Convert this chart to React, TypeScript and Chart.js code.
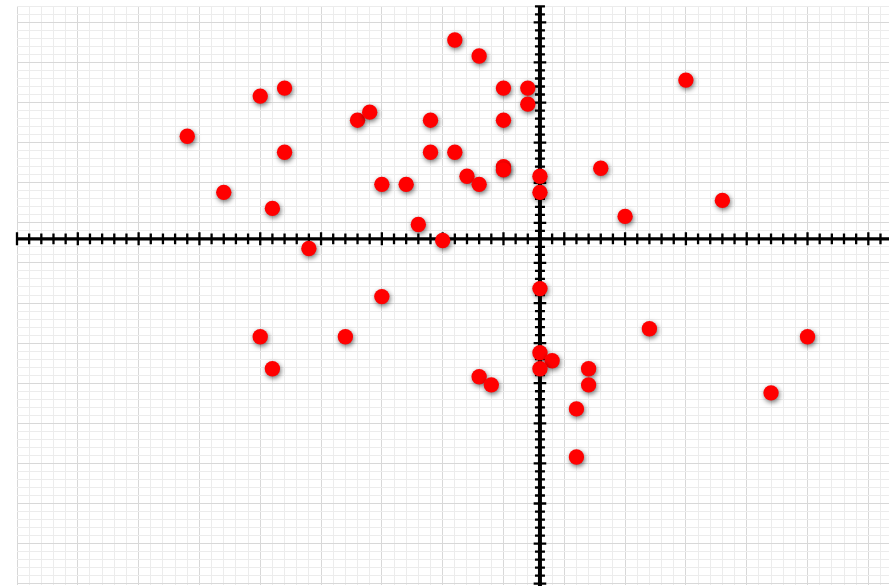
import { useEffect, useRef } from "react";
import { Chart, registerables } from "chart.js";

Chart.register(...registerables);

// Point values (in grid units; one unit = one minor grid square)
const xValues = [
  -7, -5, 12, -23, -21, -3, -1, -1, -29, -15, -14, -9, -3, -21, -9, -7, -3, -3, -6, -5, 0, 5,
  -13, -11, -26, 0, -22, 15, 7, -10, -8, -19,
  0, -13, 9, 22, -23, -16, 0, 1, 0, -22, 4, -5, -4, 4, 19, 3, 3,
];
const yValues = [
  24.8, 22.8, 19.8, 17.8, 18.8, 18.8, 18.8, 16.8, 12.8, 14.8, 15.8, 14.8, 14.8, 10.8, 10.8, 10.8, 9.0, 8.6, 7.8, 6.8, 7.8, 8.8,
  6.8, 6.8, 5.8, 5.8, 3.8, 4.8, 2.8, 1.8, -0.2, -1.2,
  -6.2, -7.2, -11.2, -12.2, -12.2, -12.2, -14.2, -15.2, -16.2, -16.2, -16.2, -17.2, -18.2, -18.2, -19.2, -21.2, -27.2,
];

// Axis ranges (grid units)
const xRange = [-43, 28.7];
const yRange = [-43.16, 29];
const gridStart = -43;
const gridEnd = 29;

const isMajor = (v: number) => ((Math.round(v) % 5) + 5) % 5 === 2;

const crossAxes = {
  id: "crossAxes",
  beforeDatasetsDraw(chart: any) {
    const { ctx, chartArea, scales } = chart;
    const xs = scales.x;
    const ys = scales.y;
    const x0 = xs.getPixelForValue(0);
    const y0 = ys.getPixelForValue(0);
    ctx.save();
    ctx.strokeStyle = "#000";
    ctx.lineCap = "butt";
    ctx.lineWidth = 3.4;
    ctx.beginPath();
    ctx.moveTo(chartArea.left, y0);
    ctx.lineTo(chartArea.right, y0);
    ctx.stroke();
    ctx.lineWidth = 4;
    ctx.beginPath();
    ctx.moveTo(x0, chartArea.top);
    ctx.lineTo(x0, chartArea.bottom + 2);
    ctx.stroke();
    ctx.lineWidth = 2.3;
    ctx.beginPath();
    xs.ticks.forEach((t: any) => {
      const px = xs.getPixelForValue(t.value);
      const len = isMajor(t.value) ? 6.5 : 5.3;
      ctx.moveTo(px, y0 - len);
      ctx.lineTo(px, y0 + len);
    });
    ys.ticks.forEach((t: any) => {
      const py = ys.getPixelForValue(t.value);
      const len = isMajor(t.value) ? 6.3 : 5;
      ctx.moveTo(x0 - len, py);
      ctx.lineTo(x0 + len, py);
    });
    ctx.stroke();
    ctx.restore();
  },
  beforeDatasetDraw(chart: any) {
    const ctx = chart.ctx;
    ctx.save();
    ctx.shadowColor = "rgba(0,0,0,0.55)";
    ctx.shadowBlur = 5;
    ctx.shadowOffsetX = 1;
    ctx.shadowOffsetY = 2;
  },
  afterDatasetDraw(chart: any) {
    chart.ctx.restore();
  },
};

const buildGridTicks = (scale: any) => {
  const ticks: { value: number }[] = [];
  for (let v = gridStart; v <= gridEnd; v++) {
    if (v >= scale.min - 1e-9 && v <= scale.max + 1e-9) ticks.push({ value: v });
  }
  scale.ticks = ticks;
};

const gridColor = (c: any) => (c.tick && isMajor(c.tick.value) ? "#d8d8d8" : "#ececec");

export default function App() {
  const ref = useRef<HTMLCanvasElement | null>(null);
  useEffect(() => {
    if (!ref.current) return;
    const data = xValues.map((x, i) => ({ x, y: yValues[i] }));
    const chart = new Chart(ref.current, {
      type: "scatter",
      data: {
        datasets: [
          {
            data,
            backgroundColor: "#ff0000",
            borderWidth: 0,
            pointRadius: 7.7,
            pointHoverRadius: 7.7,
            clip: false,
          },
        ],
      },
      options: {
        animation: false,
        responsive: false,
        events: [],
        layout: { autoPadding: false, padding: { left: 17, top: 6.3, right: 0, bottom: 1 } },
        plugins: { legend: { display: false }, tooltip: { enabled: false } },
        scales: {
          x: {
            type: "linear",
            min: xRange[0],
            max: xRange[1],
            afterBuildTicks: buildGridTicks,
            ticks: { display: false },
            border: { display: false },
            grid: { color: gridColor, lineWidth: 1, drawTicks: false },
          },
          y: {
            type: "linear",
            min: yRange[0],
            max: yRange[1],
            afterBuildTicks: buildGridTicks,
            ticks: { display: false },
            border: { display: false },
            grid: { color: gridColor, lineWidth: 1, drawTicks: false },
          },
        },
      },
      plugins: [crossAxes],
    });
    return () => chart.destroy();
  }, []);
  return (
    <div style={{ position: "fixed", left: 0, top: 0, width: 889, height: 586, background: "#fff" }}>
      <canvas ref={ref} width={889} height={586} />
    </div>
  );
}
